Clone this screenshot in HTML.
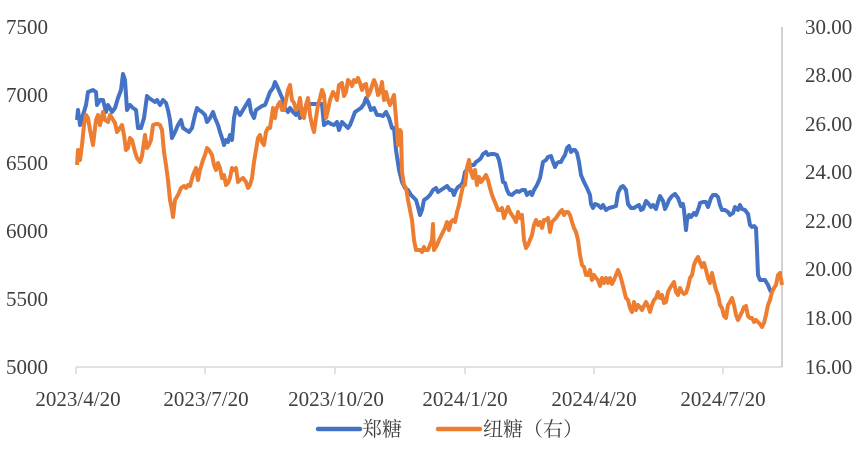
<!DOCTYPE html>
<html><head><meta charset="utf-8"><style>
html,body{margin:0;padding:0;background:#fff;}
svg{display:block;}
text{font-family:"Liberation Serif","Noto Serif CJK SC",serif;fill:#404040;}
</style></head><body>
<svg width="865" height="454" viewBox="0 0 865 454" xmlns="http://www.w3.org/2000/svg">
<g font-size="21" text-anchor="end">
<text x="48" y="34">7500</text>
<text x="48" y="102">7000</text>
<text x="48" y="170">6500</text>
<text x="48" y="238">6000</text>
<text x="48" y="306">5500</text>
<text x="48" y="374">5000</text>
</g>
<g font-size="21" text-anchor="start">
<text x="805" y="34">30.00</text>
<text x="805" y="82">28.00</text>
<text x="805" y="131">26.00</text>
<text x="805" y="179">24.00</text>
<text x="805" y="228">22.00</text>
<text x="805" y="276">20.00</text>
<text x="805" y="325">18.00</text>
<text x="805" y="374">16.00</text>
</g>
<g stroke="#d9d9d9" stroke-width="1.5" fill="none">
<line x1="76" y1="367" x2="782" y2="367"/>
<line x1="76" y1="367" x2="76" y2="374"/>
<line x1="205" y1="367" x2="205" y2="374"/>
<line x1="335" y1="367" x2="335" y2="374"/>
<line x1="465" y1="367" x2="465" y2="374"/>
<line x1="594" y1="367" x2="594" y2="374"/>
<line x1="723" y1="367" x2="723" y2="374"/>
</g>
<line x1="782" y1="27" x2="782" y2="367" stroke="#a6a6a6" stroke-width="1"/>
<g font-size="21" text-anchor="middle">
<text x="78" y="406">2023/4/20</text>
<text x="206" y="406">2023/7/20</text>
<text x="336" y="406">2023/10/20</text>
<text x="465" y="406">2024/1/20</text>
<text x="594" y="406">2024/4/20</text>
<text x="723" y="406">2024/7/20</text>
</g>
<polyline fill="none" stroke="#4472C4" stroke-width="4" stroke-linejoin="round" points="77,120 78,110 80,125 83,115 86,105 88,92 93,90 96,92 97,105 100,100 103,100 106,112 108,105 112,112 115,108 118,98 121,90 123,74 125,80 127,110 130,105 133,108 136,110 138,128 141,128 144,118 147,96 149,98 152,100 155,102 157,100 160,105 163,100 166,103 168,110 170,120 172,138 175,132 178,125 181,120 183,128 186,130 189,132 192,128 195,115 197,108 199,110 202,112 205,115 207,122 210,118 213,112 215,118 218,125 220,132 222,138 224,145 226,140 228,142 230,135 232,140 234,118 236,108 238,112 240,115 243,110 246,105 249,100 251,112 254,118 256,110 259,108 262,106 265,105 267,100 270,92 273,88 275,82 277,86 280,93 283,100 285,108 288,112 290,108 293,112 296,115 298,110 300,118 303,110 306,108 309,104 318,104 322,104 324,125 328,122 331,124 334,125 337,122 339,130 342,122 345,125 348,128 350,125 352,120 355,112 358,110 361,108 364,104 366,98 368,102 371,110 374,108 377,115 380,115 383,116 386,112 389,118 392,128 394,128 396,150 399,170 402,182 405,188 408,190 411,195 413,197 416,200 418,207 420,215 422,210 424,200 427,198 430,195 433,190 436,188 438,192 441,190 444,188 447,186 450,190 452,190 454,195 456,190 458,187 461,185 463,182 465,172 468,168 471,165 474,165 476,162 479,160 481,158 483,154 486,152 488,155 491,154 494,154 497,155 499,160 501,170 503,182 505,183 507,190 509,194 512,195 514,193 517,191 519,192 522,190 525,190 527,195 530,192 532,195 534,190 537,185 540,178 543,162 546,160 548,157 551,156 553,162 555,167 557,163 559,162 561,162 563,158 565,155 567,148 569,146 571,152 573,150 575,150 577,153 579,162 581,175 584,182 587,188 590,195 591,204 593,208 595,204 598,205 601,208 603,205 606,210 609,208 613,207 616,206 618,193 621,187 623,186 626,190 628,204 631,208 634,208 637,206 639,205 641,210 643,209 646,201 648,203 651,207 653,205 656,209 658,202 660,196 663,201 665,209 667,205 669,200 672,196 675,194 678,198 681,206 683,204 684,210 686,230 687,220 689,215 691,217 694,213 696,215 699,207 700,203 703,202 706,202 708,207 711,198 713,195 716,195 718,197 720,205 722,210 725,210 728,212 730,215 733,213 735,207 738,210 740,205 742,209 745,210 748,214 750,225 752,227 754,226 756,228 757,250 758,275 760,280 762,280 765,280 768,285 770,290 772,293"/>
<polyline fill="none" stroke="#ED7D31" stroke-width="4" stroke-linejoin="round" points="77,165 78,150 80,160 82,145 84,125 86,115 88,118 90,130 93,145 96,120 98,115 100,125 103,112 105,120 108,122 110,115 112,118 115,123 117,132 120,128 122,125 124,135 126,150 128,148 130,138 132,140 135,152 137,158 140,162 142,156 145,135 147,148 149,145 151,140 153,125 156,124 158,124 160,125 162,130 164,152 166,165 168,180 170,200 172,210 173,217 175,200 178,195 181,188 184,186 186,188 188,185 190,186 193,175 196,168 198,180 200,170 203,160 205,155 207,148 209,150 212,155 214,165 216,170 218,163 220,168 222,178 224,175 226,185 228,183 230,178 232,168 234,170 236,168 238,182 240,180 243,178 246,182 248,188 250,185 252,178 254,162 256,150 258,138 260,135 262,142 264,145 266,132 268,128 270,128 272,115 273,108 275,118 276,110 278,105 280,102 282,110 284,110 286,100 288,90 290,85 292,100 294,103 296,110 298,108 300,98 302,115 304,118 306,105 308,98 310,115 312,125 314,132 316,118 318,105 320,98 322,90 324,95 326,118 328,110 330,100 333,92 335,95 337,100 339,85 342,83 344,96 346,92 348,80 350,82 352,86 354,80 356,82 358,78 360,83 362,90 364,85 366,84 368,96 370,92 372,86 374,80 376,85 378,95 380,92 382,82 384,100 386,92 388,100 390,105 392,100 394,95 396,118 398,145 400,130 401,132 402,172 404,185 406,188 408,200 410,210 412,220 414,240 416,250 418,250 420,250 422,252 424,247 425,250 427,250 428,250 430,245 432,240 433,224 434,250 437,245 439,240 441,236 443,232 445,228 447,222 449,230 451,222 453,220 455,222 457,212 459,205 461,195 463,186 465,185 467,168 469,160 471,172 473,178 475,170 477,185 479,177 481,182 484,178 486,175 488,180 490,188 492,195 494,200 496,205 498,210 500,210 502,208 504,218 506,212 508,207 510,212 512,215 514,218 516,222 518,212 520,218 522,215 524,240 526,248 528,245 530,240 532,235 534,225 536,220 538,225 540,222 542,228 544,220 546,220 548,218 550,232 552,222 554,220 556,218 558,215 560,212 562,210 564,215 566,212 568,212 570,215 572,222 574,228 576,232 578,240 580,255 582,265 584,267 586,275 588,275 590,270 592,280 594,275 596,278 598,280 600,286 602,278 604,283 606,278 608,283 610,278 612,284 614,280 616,275 618,270 620,275 622,282 624,290 626,298 628,300 630,308 632,312 634,302 636,310 638,305 640,307 642,310 644,306 646,302 648,306 650,312 652,305 654,300 656,298 658,292 660,298 662,295 664,303 666,302 668,292 670,288 672,285 674,282 676,292 678,295 680,288 682,292 684,294 686,293 688,287 690,278 692,275 694,265 696,260 698,257 700,262 702,267 704,263 706,270 708,278 710,283 712,273 714,282 716,290 718,295 720,305 722,308 724,316 726,318 728,305 730,302 732,298 734,305 736,315 738,320 740,316 742,312 744,307 746,306 748,316 750,318 752,318 754,322 756,320 758,322 760,324 762,327 764,323 766,315 768,305 770,300 772,292 774,288 776,285 778,275 780,273 782,285"/>
<line x1="318" y1="429" x2="360" y2="429" stroke="#4472C4" stroke-width="4.5" stroke-linecap="round"/>
<text x="362" y="436" font-size="20">郑糖</text>
<line x1="438" y1="429" x2="480" y2="429" stroke="#ED7D31" stroke-width="4.5" stroke-linecap="round"/>
<text x="483" y="436" font-size="20">纽糖（右）</text>
</svg>
</body></html>
